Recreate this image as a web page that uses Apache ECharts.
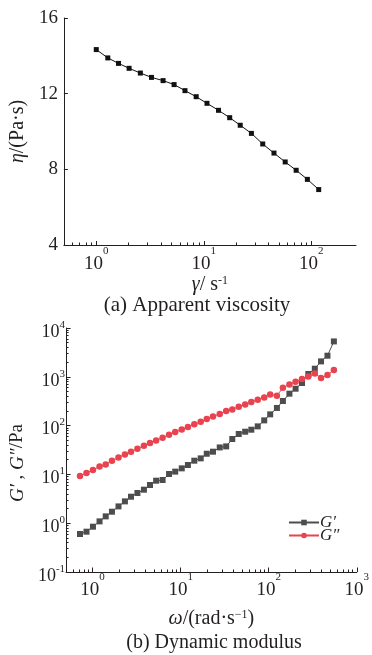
<!DOCTYPE html>
<html>
<head>
<meta charset="utf-8">
<script src="https://cdn.jsdelivr.net/npm/echarts@6/dist/echarts.min.js"></script>
<style>html,body{margin:0;padding:0;background:#fff;}#c{width:372px;height:655px;}</style>
</head>
<body>
<div id="c"></div>
<script>
// ---- (a) Apparent viscosity ----
const shearRate = [1.00, 1.28, 1.61, 2.02, 2.57, 3.26, 4.18, 5.29, 6.68, 8.49, 10.7, 13.7, 17.4, 21.8, 27.7, 35.3, 44.9, 57.1, 72.2, 91.8, 117];
const viscosity = [14.33, 13.89, 13.60, 13.34, 13.09, 12.86, 12.69, 12.48, 12.16, 11.84, 11.49, 11.12, 10.73, 10.33, 9.90, 9.34, 8.86, 8.39, 7.95, 7.47, 6.93];
const topYTicks = [4, 8, 12, 16];
const topXMajor = [1, 10, 100];
const topXMinor = [0.6, 0.7, 0.8, 0.9, 2, 3, 4, 5, 6, 7, 8, 9, 20, 30, 40, 50, 60, 70, 80, 90];

// ---- (b) Dynamic modulus ----
const omega = [0.720, 0.853, 1.01, 1.20, 1.41, 1.66, 1.97, 2.33, 2.73, 3.23, 3.83, 4.49, 5.27, 6.24, 7.39, 8.68, 10.3, 12.1, 14.3, 16.9, 19.8, 23.3, 27.8, 32.9, 38.6, 45.7, 54.1, 63.5, 75.1, 89.0, 104, 124, 145, 172, 202, 239, 282, 334, 393, 465, 550];
const gPrime = [0.601, 0.670, 0.848, 1.09, 1.38, 1.72, 2.21, 2.80, 3.49, 4.16, 4.86, 6.06, 7.43, 7.67, 10.2, 11.4, 13.3, 15.6, 19.1, 21.3, 26.5, 29.2, 35.7, 37.5, 53.1, 67.3, 75.0, 82.4, 96.4, 128, 170, 230, 319, 451, 570, 746, 1141, 1466, 2069, 2704, 5310];
const gDoublePrime = [9.27, 10.7, 12.3, 14.6, 16.0, 19.1, 22.3, 25.7, 29.2, 33.6, 38.7, 44.0, 49.8, 56.5, 65.1, 73.9, 83.6, 93.6, 106, 120, 136, 154, 173, 199, 215, 244, 272, 305, 340, 378, 436, 410, 598, 699, 794, 901, 1019, 1175, 945, 1089, 1378];
const botXMajor = [1, 10, 100, 1000];
const botXMinor = [0.6, 0.7, 0.8, 0.9, 2, 3, 4, 5, 6, 7, 8, 9, 20, 30, 40, 50, 60, 70, 80, 90, 200, 300, 400, 500, 600, 700, 800, 900];
const botYMajor = [0.1, 1, 10, 100, 1000, 10000];
const botYMinor = [0.2, 0.3, 0.4, 0.5, 0.6, 0.7, 0.8, 0.9, 2, 3, 4, 5, 6, 7, 8, 9, 20, 30, 40, 50, 60, 70, 80, 90, 200, 300, 400, 500, 600, 700, 800, 900, 2000, 3000, 4000, 5000, 6000, 7000, 8000, 9000];
const seriesNames = ['G\u2032', 'G\u2033'];

const F = '"Liberation Serif", "Times New Roman", serif';
const C = '#231f20';
const GRAY = '#4d4d4d';
const RED = '#e8434f';

function pow10(v) { return '{b|10}{s|' + Math.round(Math.log10(v)) + '}'; }
const xRich = {
  b: { fontFamily: F, fontSize: 19, color: C, lineHeight: 28, verticalAlign: 'bottom' },
  s: { fontFamily: F, fontSize: 11, color: C, lineHeight: 11, verticalAlign: 'top' }
};
const yRich = {
  b: { fontFamily: F, fontSize: 18, color: C, lineHeight: 25 },
  s: { fontFamily: F, fontSize: 11, color: C, lineHeight: 11, verticalAlign: 'top' }
};
const line = { color: C, width: 1 };
const nameRich = {
  i: { fontFamily: F, fontSize: 20, fontStyle: 'italic', color: C },
  n: { fontFamily: F, fontSize: 20, color: C },
  s: { fontFamily: F, fontSize: 12, color: C, verticalAlign: 'top', lineHeight: 12 }
};
const gNameRich = {
  i: { fontFamily: F, fontSize: 19, fontStyle: 'italic', color: C },
  n: { fontFamily: F, fontSize: 19, color: C }
};

function minorAxis(grid, min, max, vals, pos) {
  return {
    type: 'log', gridIndex: grid, min: min, max: max, position: pos,
    axisLine: { show: false, onZero: false },
    axisTick: { show: true, inside: true, length: 2.5, customValues: vals, lineStyle: line },
    axisLabel: { show: false }, splitLine: { show: false }
  };
}
function legendFor(name, top) {
  return {
    orient: 'vertical', left: 288, top: top, itemWidth: 30, itemHeight: 7, padding: 0,
    data: [name],
    textStyle: { fontFamily: F, fontStyle: 'italic', fontSize: 17, color: C, padding: [0, 0, 0, -4] }
  };
}

const chart = echarts.init(document.getElementById('c'), null, { renderer: 'canvas' });
chart.setOption({
  animation: false,
  backgroundColor: '#fff',
  grid: [
    { left: 61, top: 18, width: 295, height: 227 },
    { left: 61, top: 328, width: 303, height: 244 }
  ],
  xAxis: [
    {
      type: 'log', gridIndex: 0, min: 0.5, max: 260, position: 'bottom',
      axisLine: { onZero: false, lineStyle: line },
      axisTick: { inside: true, length: 4, customValues: topXMajor, lineStyle: line },
      axisLabel: { customValues: topXMajor, formatter: pow10, rich: xRich, margin: 1 },
      splitLine: { show: false },
      name: '{i|\u03b3}{n|/ s}{s|-1}', nameLocation: 'middle', nameGap: 28,
      nameTextStyle: { rich: nameRich, verticalAlign: 'top' }
    },
    minorAxis(0, 0.5, 260, topXMinor, 'bottom'),
    {
      type: 'log', gridIndex: 1, min: 0.5, max: 1000, position: 'bottom',
      axisLine: { onZero: false, lineStyle: line },
      axisTick: { inside: true, length: 4.5, customValues: botXMajor, lineStyle: line },
      axisLabel: { customValues: botXMajor, formatter: pow10, rich: xRich, margin: 0 },
      splitLine: { show: false },
      name: '{i|\u03c9}{n|/(rad\u00b7s}{s|\u22121}{n|)}', nameLocation: 'middle', nameGap: 37,
      nameTextStyle: { rich: nameRich, verticalAlign: 'top' }
    },
    minorAxis(1, 0.5, 1000, botXMinor, 'bottom')
  ],
  yAxis: [
    {
      type: 'value', gridIndex: 0, min: 4, max: 16, interval: 4, position: 'left',
      axisLine: { show: true, onZero: false, lineStyle: line },
      axisTick: { show: true, inside: true, length: 4, lineStyle: line },
      axisLabel: { fontFamily: F, fontSize: 19, color: C, margin: 6, customValues: topYTicks },
      splitLine: { show: false },
      name: '{i|\u03b7}{n|/(Pa\u00b7s)}', nameLocation: 'middle', nameGap: 32, nameRotate: 90,
      nameTextStyle: { rich: nameRich }
    },
    {
      type: 'log', gridIndex: 1, min: 0.1, max: 10000, position: 'left',
      axisLine: { show: true, onZero: false, lineStyle: line },
      axisTick: { show: true, inside: true, length: 4.5, customValues: botYMajor, lineStyle: line },
      axisLabel: { customValues: botYMajor, formatter: pow10, rich: yRich, margin: 1, padding: [8, 0, 0, 0] },
      splitLine: { show: false },
      name: '{i|G\u2032}{n| , }{i|G\u2033}{n|/Pa}', nameLocation: 'middle', nameGap: 36, nameRotate: 90,
      nameTextStyle: { rich: gNameRich, padding: [0, 26, 0, 0] }
    },
    minorAxis(1, 0.1, 10000, botYMinor, 'left')
  ],
  legend: [legendFor(seriesNames[0], 514), legendFor(seriesNames[1], 527)],
  graphic: [
    { type: 'text', x: 197, y: 305, style: { text: '(a) Apparent viscosity', font: '21px ' + F, fill: C, align: 'center', verticalAlign: 'middle' } },
    { type: 'text', x: 214, y: 643, style: { text: '(b) Dynamic modulus', font: '20px ' + F, fill: C, align: 'center', verticalAlign: 'middle' } }
  ],
  series: [
    {
      type: 'line', xAxisIndex: 0, yAxisIndex: 0,
      data: shearRate.map((x, i) => [x, viscosity[i]]),
      symbol: 'rect', symbolSize: 5, itemStyle: { color: '#111' }, lineStyle: { color: '#111', width: 1 }
    },
    {
      name: seriesNames[0], type: 'line', xAxisIndex: 2, yAxisIndex: 1,
      data: omega.map((x, i) => [x, gPrime[i]]),
      symbol: 'rect', symbolSize: 6, itemStyle: { color: GRAY }, lineStyle: { color: GRAY, width: 1 }
    },
    {
      name: seriesNames[1], type: 'line', xAxisIndex: 2, yAxisIndex: 1,
      data: omega.map((x, i) => [x, gDoublePrime[i]]),
      symbol: 'circle', symbolSize: 6.5, itemStyle: { color: RED }, lineStyle: { color: RED, width: 1 }
    }
  ]
});
</script>
</body>
</html>
